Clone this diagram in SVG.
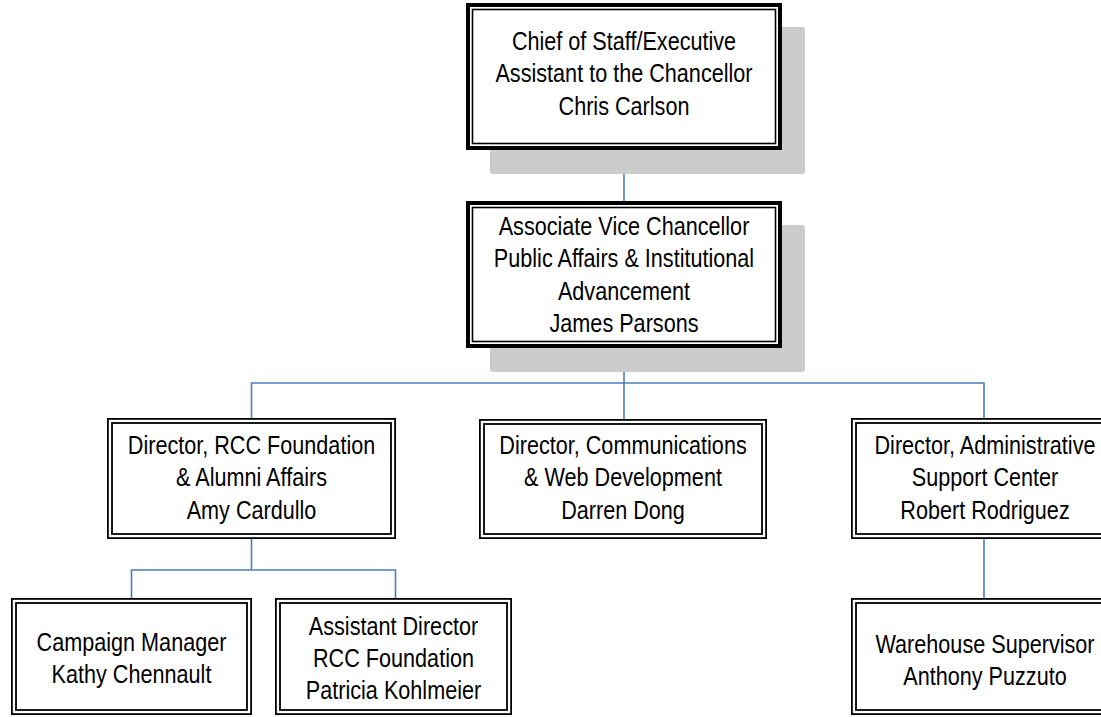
<svg xmlns="http://www.w3.org/2000/svg" width="1101" height="717" viewBox="0 0 1101 717">
<style>
.shadow{fill:#cccccc;}
.outerT{fill:#ffffff;stroke:#000;stroke-width:4;}
.innerT{fill:none;stroke:#000;stroke-width:1.6;}
.outerD{fill:#ffffff;stroke:#000;stroke-width:1.8;}
.innerD{fill:none;stroke:#000;stroke-width:1.8;}
.conn{fill:none;stroke:#4a7ebb;stroke-width:1.6;}
text{font-family:"Liberation Sans Narrow","Arial Narrow","Liberation Sans",Arial,sans-serif;font-size:25px;fill:#000;text-anchor:middle;}
</style>
<rect width="1101" height="717" fill="#ffffff"/>
<g id="connectors">
<path class="conn" d="M624,150 V201"/>
<path class="conn" d="M624,348 V419"/>
<path class="conn" d="M251.5,419 V383 H984 V419"/>
<path class="conn" d="M251.5,539 V570"/>
<path class="conn" d="M131.5,598 V570 H395.5 V598"/>
<path class="conn" d="M984,539 V598"/>
</g>
<g id="n-chief">
<rect class="shadow" x="490" y="27" width="315" height="147" rx="3"/>
<rect class="outerT" x="468" y="5" width="312" height="143"/>
<rect class="innerT" x="472.5" y="9.5" width="303" height="134"/>
<g transform="translate(624 0) scale(0.865 1)">
<text x="0" y="50">Chief of Staff/Executive</text>
<text x="0" y="82.5">Assistant to the Chancellor</text>
<text x="0" y="115">Chris Carlson</text>
</g>
</g>
<g id="n-avc">
<rect class="shadow" x="490" y="225" width="315" height="147" rx="3"/>
<rect class="outerT" x="468" y="203" width="312" height="143"/>
<rect class="innerT" x="472.5" y="207.5" width="303" height="134"/>
<g transform="translate(624 0) scale(0.865 1)">
<text x="0" y="235">Associate Vice Chancellor</text>
<text x="0" y="267.3">Public Affairs &amp; Institutional</text>
<text x="0" y="299.6">Advancement</text>
<text x="0" y="331.9">James Parsons</text>
</g>
</g>
<g id="n-foundation">
<rect class="outerD" x="107.9" y="418.9" width="287.2" height="119.2"/>
<rect class="innerD" x="112" y="423" width="279" height="111"/>
<g transform="translate(251.5 0) scale(0.865 1)">
<text x="0" y="454">Director, RCC Foundation</text>
<text x="0" y="486.5">&amp; Alumni Affairs</text>
<text x="0" y="519">Amy Cardullo</text>
</g>
</g>
<g id="n-comm">
<rect class="outerD" x="479.9" y="419.9" width="286.2" height="118.2"/>
<rect class="innerD" x="484" y="424" width="278" height="110"/>
<g transform="translate(623 0) scale(0.865 1)">
<text x="0" y="454">Director, Communications</text>
<text x="0" y="486.5">&amp; Web Development</text>
<text x="0" y="519">Darren Dong</text>
</g>
</g>
<g id="n-admin">
<rect class="outerD" x="851.9" y="418.9" width="264.2" height="119.2"/>
<rect class="innerD" x="856" y="423" width="256" height="111"/>
<g transform="translate(985 0) scale(0.865 1)">
<text x="0" y="454">Director, Administrative</text>
<text x="0" y="486.5">Support Center</text>
<text x="0" y="519">Robert Rodriguez</text>
</g>
</g>
<g id="n-campaign">
<rect class="outerD" x="11.9" y="598.9" width="239.2" height="115.2"/>
<rect class="innerD" x="16" y="603" width="231" height="107"/>
<g transform="translate(131.5 0) scale(0.865 1)">
<text x="0" y="651.5">Campaign Manager</text>
<text x="0" y="683.5">Kathy Chennault</text>
</g>
</g>
<g id="n-assistant">
<rect class="outerD" x="275.9" y="598.9" width="235.2" height="115.2"/>
<rect class="innerD" x="280" y="603" width="227" height="107"/>
<g transform="translate(393.5 0) scale(0.865 1)">
<text x="0" y="635">Assistant Director</text>
<text x="0" y="667.3">RCC Foundation</text>
<text x="0" y="699.5">Patricia Kohlmeier</text>
</g>
</g>
<g id="n-warehouse">
<rect class="outerD" x="851.9" y="598.9" width="264.2" height="115.2"/>
<rect class="innerD" x="856" y="603" width="256" height="107"/>
<g transform="translate(985 0) scale(0.865 1)">
<text x="0" y="653">Warehouse Supervisor</text>
<text x="0" y="685">Anthony Puzzuto</text>
</g>
</g>
</svg>
